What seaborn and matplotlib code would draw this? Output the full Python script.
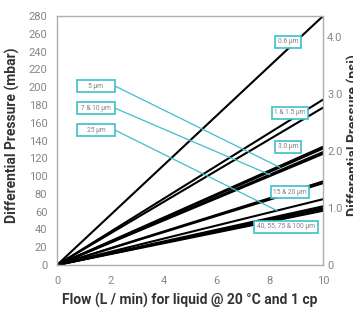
"""
Pressure drop vs. flow for liquid filters of different pore sizes.
"""

import matplotlib
matplotlib.use('Agg')
import matplotlib.pyplot as plt
from matplotlib.patches import Rectangle
import seaborn as sns
import pandas as pd

# Data: flow end points and pressure at 10 L/min per pore size
flow_points = [0, 10]
pore_sizes = ["0.6", "1", "1.5", "3.0", "5", "7", "10", "15", "20", "25", "40", "55", "75", "100"]
dp_at_10 = [280, 186, 177, 133, 131, 127, 125, 94, 92, 74, 66, 64, 63, 61]

x_ticks = [0, 2, 4, 6, 8, 10]
y_ticks = list(range(0, 281, 20))
psi_ticks = [0, 1.0, 2.0, 3.0, 4.0]
psi_tick_labels = ["0", "1.0", "2.0", "3.0", "4.0"]
MBAR_PER_PSI_UNIT = 64.0   # spacing of the right axis as drawn in the picture

# Boxed labels on the right side (text, flow, mbar) - sit beside their lines
right_labels = [
    ("0.6 µm", 8.68, 251),
    ("1 & 1.5 µm", 8.76, 171),
    ("3.0 µm", 8.68, 133),
    ("15 & 20 µm", 8.76, 82),
    ("40, 55, 75 & 100 µm", 8.61, 43),
]
# Boxed labels on the left with a leader line:
# (text, box bottom in axes fraction, pore the leader points to, flow of leader end)
left_labels = [
    ("5 µm", 0.695, "5", 8.38),
    ("7 & 10 µm", 0.606, "7", 8.0),
    ("25 µm", 0.518, "25", 8.27),
]
BOX_X0, BOX_W, BOX_H = 0.075, 0.143, 0.048

CYAN = "#3fbfc8"
FRAME = "#b3ada5"
TICK_GRAY = "#8a857e"
LABEL_DARK = "#333333"
BOX_TEXT = "#808080"

sns.set_theme(style="white")
plt.rcParams['font.family'] = ['Roboto', 'DejaVu Sans']

rows = []
for pore, dp in zip(pore_sizes, dp_at_10):
    for f in flow_points:
        rows.append({"pore": pore, "flow": f, "dp": dp * f / flow_points[-1]})
df = pd.DataFrame(rows)

fig = plt.figure(figsize=(3.53, 3.09), dpi=100)
ax = fig.add_axes([0.1615, 0.1424, 0.7535, 0.8056])

sns.lineplot(data=df, x="flow", y="dp", units="pore", estimator=None,
             color="black", linewidth=1.5, ax=ax, legend=False)

ax.set_xlim(0, 10)
ax.set_ylim(0, 280)
ax.set_xticks(x_ticks)
ax.set_yticks(y_ticks)
ax.tick_params(axis="both", length=0, labelsize=8, colors=TICK_GRAY)
ax.tick_params(axis="y", pad=7)
ax.tick_params(axis="x", pad=8)
for spine in ax.spines.values():
    spine.set_color(FRAME)
    spine.set_linewidth(1.0)

ax.set_xlabel("Flow (L / min) for liquid @ 20 °C and 1 cp", fontsize=10,
              fontweight="bold", color=LABEL_DARK, labelpad=5)
ax.set_ylabel("Differential Pressure (mbar)", fontsize=10,
              fontweight="bold", color=LABEL_DARK)
ax.yaxis.set_label_coords(-0.14, 0.52)

# Right axis in psi (label runs off the right edge, as in the source)
ax2 = ax.twinx()
ax2.set_ylim(0, 280 / MBAR_PER_PSI_UNIT)
ax2.set_yticks(psi_ticks)
ax2.set_yticklabels(psi_tick_labels)
ax2.tick_params(axis="y", length=0, labelsize=8, colors=TICK_GRAY, pad=3)
for spine in ax2.spines.values():
    spine.set_visible(False)
ax2.set_ylabel("Differential Pressure (psi)", fontsize=10,
               fontweight="bold", color=LABEL_DARK, rotation=90)
ax2.yaxis.set_label_coords(1.09, 0.52)

for text, fx, fy in right_labels:
    ax.text(fx, fy, text, fontsize=4.8, color=BOX_TEXT, ha="center", va="center",
            bbox=dict(boxstyle="square,pad=0.4", fc="white", ec=CYAN, lw=1.2),
            zorder=5)

for text, y0, pore, end_flow in left_labels:
    end_dp = dp_at_10[pore_sizes.index(pore)] * end_flow / flow_points[-1]
    ax.add_patch(Rectangle((BOX_X0, y0), BOX_W, BOX_H, transform=ax.transAxes,
                           fc="white", ec=CYAN, lw=1.2, zorder=5))
    ax.text(BOX_X0 + BOX_W / 2, y0 + BOX_H / 2, text, transform=ax.transAxes,
            fontsize=4.8, color=BOX_TEXT, ha="center", va="center", zorder=6)
    ax.annotate("", xy=(end_flow, end_dp), xycoords="data",
                xytext=(BOX_X0 + BOX_W, y0 + BOX_H / 2), textcoords="axes fraction",
                arrowprops=dict(arrowstyle="-", color=CYAN, lw=0.9,
                                shrinkA=0, shrinkB=0),
                zorder=4)

fig.savefig("out.png", dpi=100)
plt.close(fig)
